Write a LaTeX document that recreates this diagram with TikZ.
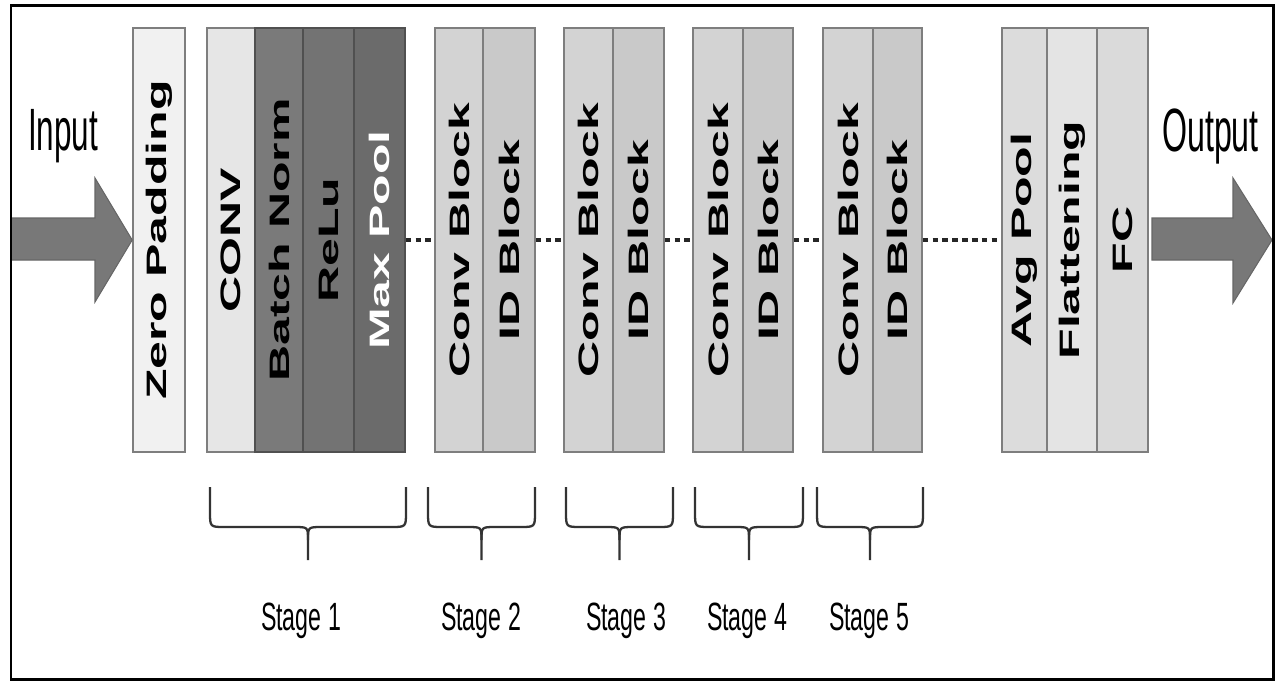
\documentclass[tikz,border=0pt]{standalone}
\usepackage{fontspec}
\setmainfont{Liberation Sans}
\usepackage{graphicx}
\definecolor{edgeL}{HTML}{7E7E7E}
\definecolor{edgeD}{HTML}{505050}
\definecolor{cZP}{HTML}{F1F1F1}
\definecolor{cCONV}{HTML}{E6E6E6}
\definecolor{cBN}{HTML}{7A7A7A}
\definecolor{cRELU}{HTML}{737373}
\definecolor{cMP}{HTML}{6B6B6B}
\definecolor{cCB}{HTML}{D3D3D3}
\definecolor{cID}{HTML}{C9C9C9}
\definecolor{cAP}{HTML}{DCDCDC}
\definecolor{cFL}{HTML}{E4E4E4}
\definecolor{cFC}{HTML}{DADADA}
\definecolor{cArrow}{HTML}{787878}
\definecolor{cBrace}{HTML}{333333}
\newcommand{\vtext}[1]{\rotatebox{90}{\scalebox{1.78}[1]{\fontsize{16}{18}\selectfont\bfseries #1}}}
\newcommand{\talltext}[2]{\scalebox{1}[#1]{#2}}
\tikzset{
  blk/.style={rectangle, draw=edgeL, line width=0.9pt, minimum height=8.48cm, inner sep=0pt, text=black},
  dblk/.style={blk, draw=edgeD},
  dotline/.style={draw=black!85, line width=2pt, dash pattern=on 3.2pt off 2.4pt},
  brc/.style={draw=cBrace, line width=1.3pt},
  stg/.style={anchor=base, inner sep=0pt, font=\fontsize{13.2}{15}\selectfont},
  iolabel/.style={anchor=base, inner sep=0pt},
  bigarrow/.style={fill=cArrow, draw=cArrow!85!black, line width=0.6pt}
}
\newcommand{\stgbrace}[2]{%
  \pgfmathsetmacro{\xc}{(#1+#2)/2}%
  \draw[brc] (#1,487) -- (#1,512) .. controls (#1,527) .. (#1+15,527) -- (\xc-14,527) .. controls (\xc,527) .. (\xc,540) -- (\xc,560);
  \draw[brc] (#2,487) -- (#2,512) .. controls (#2,527) .. (#2-15,527) -- (\xc+14,527) .. controls (\xc,527) .. (\xc,540);
}
\begin{document}
\begin{tikzpicture}[x=0.02cm,y=-0.02cm]
\useasboundingbox (0,0) rectangle (1275,681);
\fill[white] (0,0) rectangle (1275,681);

% blocks
\node[blk, fill=cZP, minimum width=1.04cm] (zp) at (159,240) {\vtext{Zero Padding}};
\node[blk, fill=cCONV, minimum width=0.96cm] (conv) at (231,240) {\vtext{CONV}};
\node[dblk, fill=cBN, minimum width=0.96cm] (bn) at (279,240) {\vtext{Batch Norm}};
\node[dblk, fill=cRELU, minimum width=1.02cm] (relu) at (328.5,240) {\vtext{ReLu}};
\node[dblk, fill=cMP, minimum width=1.02cm, text=white] (mp) at (379.5,240) {\vtext{Max Pool}};

\node[blk, fill=cCB, minimum width=0.96cm] (c2) at (459,240) {\vtext{Conv Block}};
\node[blk, fill=cID, minimum width=1.04cm] (i2) at (509,240) {\vtext{ID Block}};
\node[blk, fill=cCB, minimum width=0.98cm] (c3) at (588.5,240) {\vtext{Conv Block}};
\node[blk, fill=cID, minimum width=1.02cm] (i3) at (638.5,240) {\vtext{ID Block}};
\node[blk, fill=cCB, minimum width=1.00cm] (c4) at (718,240) {\vtext{Conv Block}};
\node[blk, fill=cID, minimum width=1.00cm] (i4) at (768,240) {\vtext{ID Block}};
\node[blk, fill=cCB, minimum width=1.00cm] (c5) at (848,240) {\vtext{Conv Block}};
\node[blk, fill=cID, minimum width=0.98cm] (i5) at (897.5,240) {\vtext{ID Block}};

\node[blk, fill=cAP, minimum width=0.90cm] (ap) at (1024.5,240) {\vtext{Avg Pool}};
\node[blk, fill=cFL, minimum width=1.00cm] (fl) at (1072,240) {\vtext{Flattening}};
\node[blk, fill=cFC, minimum width=1.02cm] (fc) at (1122.5,240) {\vtext{FC}};

% dotted connectors
\draw[dotline] (mp.east) -- (c2.west);
\draw[dotline] (i2.east) -- (c3.west);
\draw[dotline] (i3.east) -- (c4.west);
\draw[dotline] (i4.east) -- (c5.west);
\draw[dotline] (i5.east) -- (ap.west);

% input / output arrows
\draw[bigarrow] (11,218) -- (95,218) -- (95,178) -- (zp.west) -- (95,302) -- (95,260) -- (11,260) -- cycle;
\coordinate (outtip) at (1272,240);
\draw[bigarrow] (1152,218) -- (1233,218) -- (1233,178) -- (outtip) -- (1233,303) -- (1233,260) -- (1152,260) -- cycle;

\node[iolabel] (inlbl) at (63,150) {\talltext{1.9}{\fontsize{17.9}{20}\selectfont Input}};
\node[iolabel] (outlbl) at (1210.5,151) {\talltext{1.9}{\fontsize{18.3}{20}\selectfont Output}};

% braces
\stgbrace{210}{406}
\stgbrace{428}{535}
\stgbrace{566}{673}
\stgbrace{695}{803}
\stgbrace{817}{923}

\node[stg] (s1) at (301,630) {\talltext{1.7}{Stage 1}};
\node[stg] (s2) at (481,630) {\talltext{1.7}{Stage 2}};
\node[stg] (s3) at (626,630) {\talltext{1.7}{Stage 3}};
\node[stg] (s4) at (747,630) {\talltext{1.7}{Stage 4}};
\node[stg] (s5) at (869,630) {\talltext{1.7}{Stage 5}};

% frame
\draw[line width=1.7pt, black] (11,5) rectangle (1273,679);
\end{tikzpicture}
\end{document}
